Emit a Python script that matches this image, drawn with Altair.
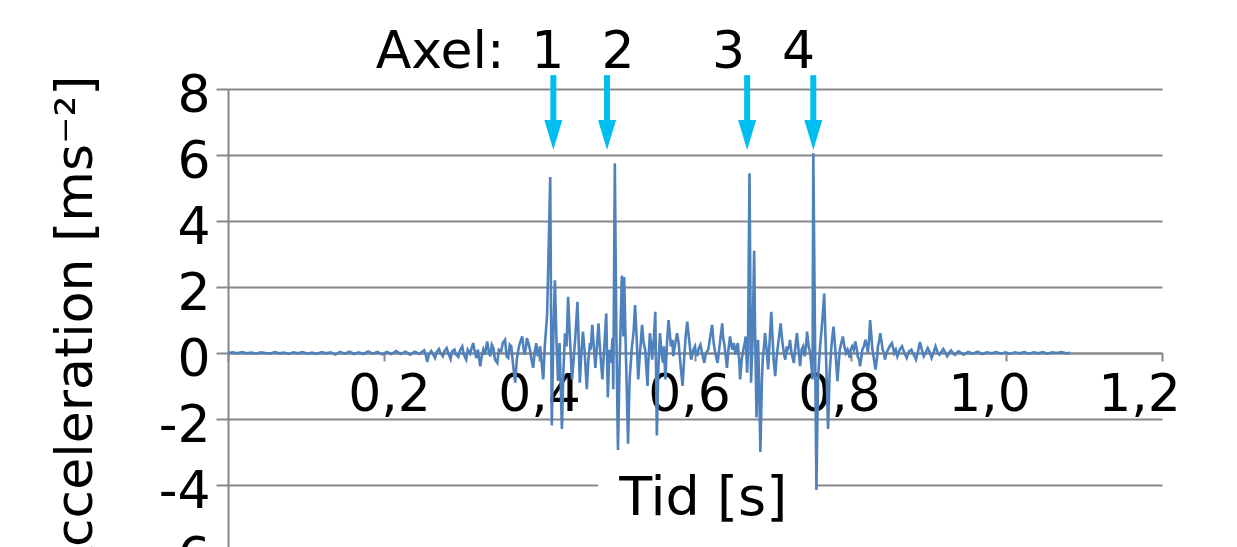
import altair as alt
import pandas as pd

# ---- data: (time [s], acceleration [m/s^2]) ----
seg_quiet_start = [
    (0.000, 0.00), (0.006, 0.02), (0.012, -0.01), (0.018, 0.03), (0.024, -0.01),
    (0.030, 0.01), (0.036, -0.02), (0.042, 0.02), (0.048, 0.00), (0.054, -0.02),
    (0.060, 0.03), (0.066, -0.01), (0.072, 0.01), (0.078, -0.03), (0.084, 0.02),
    (0.090, -0.01), (0.096, 0.03), (0.102, -0.02), (0.108, 0.01), (0.114, -0.03),
    (0.120, 0.03), (0.126, -0.01), (0.132, 0.02), (0.138, -0.05), (0.144, 0.03),
    (0.150, -0.02), (0.156, 0.04), (0.162, -0.03), (0.168, 0.02), (0.174, -0.03),
    (0.180, 0.05), (0.186, -0.02), (0.192, 0.03), (0.198, -0.04), (0.204, 0.03),
    (0.210, -0.03), (0.216, 0.06), (0.222, -0.03), (0.228, 0.04), (0.234, -0.05),
    (0.240, 0.04), (0.246, -0.03),
]
seg_build_up = [
    (0.249, 0.03), (0.252, 0.08), (0.254, -0.05), (0.256, -0.27), (0.258, -0.05),
    (0.261, 0.06), (0.263, -0.02), (0.266, -0.15), (0.268, 0.02), (0.271, 0.12),
    (0.273, 0.00), (0.276, -0.10), (0.278, 0.05), (0.281, 0.15), (0.283, 0.00),
    (0.286, -0.18), (0.288, 0.05), (0.291, 0.10), (0.293, -0.05), (0.296, -0.12),
    (0.298, 0.08), (0.301, 0.20), (0.303, -0.05), (0.306, -0.20), (0.308, 0.10),
    (0.311, -0.02), (0.313, 0.15), (0.315, 0.30), (0.317, 0.05), (0.319, -0.15),
    (0.321, 0.10), (0.324, -0.40), (0.326, -0.10), (0.328, 0.10), (0.330, -0.05),
    (0.333, 0.35), (0.335, 0.05), (0.337, -0.10), (0.339, 0.25), (0.341, 0.15),
    (0.343, -0.20), (0.346, -0.30), (0.348, 0.10), (0.351, 0.05), (0.353, 0.30),
    (0.356, 0.40), (0.358, -0.10), (0.360, -0.15), (0.362, 0.25), (0.364, 0.20),
    (0.366, -0.30), (0.369, -0.90), (0.371, -0.20), (0.373, 0.10), (0.375, 0.30),
    (0.378, 0.50), (0.380, 0.10), (0.381, -0.05), (0.383, 0.20), (0.384, 0.45),
    (0.386, 0.30), (0.388, 0.10), (0.390, -0.20), (0.392, -0.45), (0.394, 0.00),
    (0.396, 0.30), (0.398, -0.10), (0.401, 0.20), (0.403, -0.30), (0.405, -0.80),
    (0.407, 0.20), (0.410, 1.15),
]
seg_axles_1_2 = [
    (0.414, 5.33), (0.416, -2.20), (0.418, 0.50), (0.420, 2.20), (0.422, 0.40),
    (0.424, -0.85), (0.426, 0.30), (0.429, -2.30), (0.431, -0.50), (0.433, 0.60),
    (0.435, 0.20), (0.437, 1.70), (0.439, 0.60), (0.442, -0.80), (0.444, -0.20),
    (0.446, 0.40), (0.449, 1.55), (0.450, 0.80), (0.452, -0.90), (0.454, 0.00),
    (0.456, 0.65), (0.458, 0.10), (0.461, -1.10), (0.463, -0.20), (0.465, 0.30),
    (0.466, 0.10), (0.468, 0.85), (0.470, 0.20), (0.472, -0.45), (0.474, 0.20),
    (0.476, 0.90), (0.478, 0.10), (0.481, -0.80), (0.483, 0.00), (0.486, 1.20),
    (0.488, -1.35), (0.490, 0.10), (0.492, -0.30), (0.494, 0.45), (0.495, -1.10),
    (0.497, 5.75), (0.499, 0.50), (0.501, -2.94), (0.503, -0.50), (0.506, 2.35),
    (0.508, 0.50), (0.509, 2.30), (0.511, 0.20), (0.514, -2.75), (0.516, -0.80),
    (0.519, 0.20), (0.521, 0.60), (0.523, 1.45), (0.525, 0.50), (0.527, -0.80),
    (0.529, -0.10), (0.532, 0.85), (0.534, 0.30), (0.536, 0.10), (0.539, -1.00),
    (0.540, -0.30), (0.542, 0.60), (0.544, 0.20), (0.545, -0.20), (0.547, 0.40),
    (0.549, 1.25), (0.551, -2.50), (0.553, -0.40), (0.555, 0.60), (0.557, 0.00),
    (0.559, -0.30), (0.560, 0.20), (0.562, -0.80), (0.564, 0.30), (0.566, 1.00),
    (0.568, 0.50), (0.569, 0.20), (0.571, 0.40), (0.572, -0.10), (0.574, 0.20),
    (0.577, 0.60), (0.579, 0.30), (0.580, 0.00), (0.582, -0.50), (0.584, -1.00),
    (0.586, -0.20), (0.588, 0.50), (0.590, 0.95), (0.592, 0.50), (0.593, 0.30),
    (0.595, -0.20), (0.596, -0.10), (0.598, 0.10), (0.600, 0.20), (0.601, 0.00),
    (0.603, -0.05), (0.605, 0.15), (0.607, 0.25), (0.610, -0.10), (0.612, -0.30),
    (0.614, 0.00), (0.617, 0.10), (0.619, 0.40), (0.622, 0.85), (0.624, 0.30),
    (0.626, 0.00), (0.628, -0.20), (0.629, -0.30), (0.632, 0.30), (0.635, 0.90),
    (0.636, 0.50), (0.638, 0.20), (0.640, -0.20), (0.641, -0.45), (0.643, 0.10),
    (0.645, 0.50), (0.647, 0.20), (0.648, 0.10), (0.650, 0.30), (0.652, -0.05),
    (0.653, 0.10), (0.655, 0.30), (0.657, -0.30), (0.658, -0.80), (0.660, -0.20),
    (0.662, 0.10), (0.664, 0.30), (0.665, 0.50), (0.667, -0.60), (0.668, 0.00),
]
seg_axles_3_4 = [
    (0.670, 5.45), (0.672, -0.90), (0.674, 0.40), (0.676, 3.10), (0.677, 1.00),
    (0.679, -1.95), (0.681, 0.40), (0.682, -0.50), (0.684, -3.00), (0.686, -0.80),
    (0.687, -0.20), (0.689, 0.30), (0.690, 0.60), (0.692, 0.10), (0.694, -0.50),
    (0.696, 0.40), (0.698, 1.25), (0.700, 0.30), (0.701, -0.20), (0.703, -0.70),
    (0.705, -0.10), (0.706, 0.10), (0.708, 0.50), (0.710, 0.90), (0.712, 0.40),
    (0.713, 0.20), (0.715, -0.10), (0.716, -0.20), (0.718, 0.20), (0.719, 0.10),
    (0.721, 0.20), (0.722, 0.40), (0.724, 0.00), (0.727, -0.30), (0.729, 0.20),
    (0.731, 0.60), (0.733, 0.10), (0.735, -0.40), (0.737, 0.10), (0.739, 0.20),
    (0.741, -0.10), (0.743, 0.30), (0.744, 0.65), (0.746, 0.20), (0.748, 0.00),
    (0.751, -0.80), (0.752, 6.05), (0.756, -4.15), (0.758, -0.80), (0.761, 0.30),
    (0.763, 0.80), (0.766, 1.80), (0.768, 0.20), (0.771, -2.30), (0.773, -0.60),
    (0.775, 0.10), (0.776, 0.40), (0.778, 0.80), (0.780, 0.20), (0.783, -0.85),
    (0.785, -0.20), (0.786, 0.10), (0.788, 0.30), (0.790, 0.50), (0.792, 0.20),
    (0.794, 0.00), (0.796, 0.10), (0.799, -0.15), (0.800, 0.10), (0.802, 0.20),
    (0.804, 0.10), (0.806, 0.35), (0.808, 0.10), (0.809, -0.10), (0.811, -0.20),
    (0.812, -0.40), (0.814, -0.10), (0.815, 0.10), (0.817, 0.20), (0.819, 0.40),
    (0.821, 0.20), (0.822, 0.00), (0.824, 0.50), (0.825, 1.00), (0.827, 0.40),
    (0.828, 0.10), (0.830, -0.20), (0.832, -0.50), (0.834, -0.10), (0.835, 0.20),
    (0.837, 0.40), (0.838, 0.60), (0.840, 0.30), (0.841, 0.10), (0.843, 0.00),
    (0.844, -0.20), (0.846, 0.00), (0.848, 0.10), (0.850, 0.20), (0.853, 0.30),
    (0.855, 0.10), (0.856, 0.00), (0.858, 0.10), (0.860, -0.10),
]
seg_decay = [
    (0.863, 0.10), (0.866, 0.20), (0.869, 0.00), (0.872, -0.15), (0.875, 0.05),
    (0.878, 0.10), (0.881, -0.05), (0.884, -0.20), (0.887, 0.10), (0.889, 0.33),
    (0.892, 0.05), (0.894, -0.10), (0.897, 0.05), (0.899, 0.15), (0.902, 0.00),
    (0.904, -0.15), (0.907, 0.05), (0.909, 0.20), (0.912, 0.00), (0.914, -0.05),
    (0.917, 0.05), (0.919, 0.12), (0.922, 0.00), (0.924, -0.10), (0.927, 0.02),
    (0.929, 0.08), (0.932, -0.02), (0.934, -0.06), (0.937, 0.02), (0.939, 0.05),
    (0.942, 0.00), (0.945, -0.05), (0.951, 0.03), (0.957, -0.02), (0.963, 0.04),
    (0.969, -0.03), (0.975, 0.02), (0.981, -0.01), (0.987, 0.03), (0.993, -0.02),
    (0.999, 0.02), (1.005, -0.03), (1.011, 0.02), (1.017, -0.01), (1.023, 0.03),
    (1.029, -0.02), (1.035, 0.02), (1.041, -0.01), (1.047, 0.03), (1.053, -0.02),
    (1.059, 0.02), (1.065, 0.00), (1.071, 0.03), (1.077, -0.01), (1.082, 0.01),
]

axle_times = [0.418, 0.487, 0.667, 0.752]          # arrow positions (s)
axle_labels = ["Axel:", "1", "2", "3", "4"]
axle_label_times = [0.2725, 0.411, 0.501, 0.643, 0.733]
x_ticks = [0.0, 0.2, 0.4, 0.6, 0.8, 1.0, 1.2]
x_label_values = [0.2, 0.4, 0.6, 0.8, 1.0, 1.2]
y_ticks = [-6, -4, -2, 0, 2, 4, 6, 8]
x_title = "Tid [s]"
y_title = "Acceleration [ms⁻²]"

# ---- styling ----
FONT = "DejaVu Sans"
GRID = "#878787"
LINE = "#4F81BD"
CYAN = "#00BFF0"
FS = 52

samples = seg_quiet_start + seg_build_up + seg_axles_1_2 + seg_axles_3_4 + seg_decay
df = pd.DataFrame(samples, columns=["t", "a"])
arrows = pd.DataFrame({"t": axle_times})
lbls = pd.DataFrame({"t": axle_label_times, "label": axle_labels})
xtitle_df = pd.DataFrame({"t": [0.6105], "label": [x_title]})
xl_df = pd.DataFrame({"tick": x_label_values})

x_scale = alt.Scale(domain=[0, 1.2], nice=False, zero=False)
y_scale = alt.Scale(domain=[-6, 8], nice=False, zero=False)

x_axis = alt.Axis(
    values=x_ticks, labels=False, grid=False, orient="bottom", offset=-198,
    domainColor=GRID, domainWidth=2, tickColor=GRID, tickWidth=2, tickSize=8,
    title=None,
)
y_axis = alt.Axis(
    values=y_ticks, grid=True, gridColor=GRID, gridWidth=2,
    domainColor=GRID, domainWidth=2, tickColor=GRID, tickWidth=2, tickSize=12,
    labelPadding=6, labelFont=FONT, labelFontSize=FS, labelColor="black",
    labelOffset=6, labelFlush=False, labelExpr="'' + datum.value",
    title=y_title, titleFont=FONT, titleFontSize=FS, titleFontWeight="normal",
    titleColor="black", titleAngle=270, titleX=-137, titleY=239,
    titleAlign="center", titleBaseline="alphabetic",
)

# white box behind the x-axis title (knocks out the gridline)
box = alt.Chart(xtitle_df).mark_rect(color="white").encode(
    x=alt.X("x0:Q", scale=x_scale, axis=x_axis),
    x2=alt.X2("x1:Q"),
    y=alt.Y("y0:Q", scale=y_scale, axis=y_axis),
    y2=alt.Y2("y1:Q"),
).transform_calculate(x0="0.4756", x1="0.7545", y0="-3.55", y1="-5.4")

line = alt.Chart(df).mark_line(color=LINE, strokeWidth=2.6).encode(
    x=alt.X("t:Q", scale=x_scale, axis=x_axis),
    y=alt.Y("a:Q", scale=y_scale, axis=y_axis),
)

shaft = alt.Chart(arrows).mark_rule(color=CYAN, strokeWidth=6).encode(
    x=alt.X("t:Q", scale=x_scale),
    y=alt.datum(8.42),
    y2=alt.datum(7.0),
)

head = alt.Chart(arrows).mark_point(
    shape="M -1 0 L 1 0 L 0 3.33 Z", size=324, filled=True,
    color=CYAN, opacity=1, strokeWidth=0,
).encode(
    x=alt.X("t:Q", scale=x_scale),
    y=alt.datum(7.06),
)

axle_text = alt.Chart(lbls).mark_text(
    font=FONT, fontSize=FS, color="black", align="center", baseline="alphabetic"
).encode(
    x=alt.X("t:Q", scale=x_scale),
    y=alt.datum(8.636),
    text="label:N",
)

xtitle = alt.Chart(xtitle_df).mark_text(
    font=FONT, fontSize=54, color="black", align="center", baseline="alphabetic"
).encode(
    x=alt.X("t:Q", scale=x_scale),
    y=alt.datum(-4.91),
    text="label:N",
)

main = alt.layer(box, line, shaft, head, axle_text, xtitle)

# x tick labels (as placed in the reference: evenly spaced, slightly off the ticks)
xlabels = alt.Chart(xl_df).mark_point(opacity=0).encode(
    x=alt.X(
        "tick:Q",
        scale=alt.Scale(domain=[0, 1.2], range=[11, 911], nice=False, zero=False),
        axis=alt.Axis(
            orient="bottom", offset=-198, values=x_label_values,
            domain=False, ticks=False, tickSize=0, grid=False,
            labelExpr="replace(format(datum.value, '.1f'), '.', ',')",
            labelFont=FONT, labelFontSize=FS, labelColor="black",
            labelPadding=16, labelFlush=False, labelOverlap=False, title=None,
        ),
    ),
    y=alt.value(0),
)

chart = alt.layer(main, xlabels).resolve_scale(x="independent").properties(
    width=934, height=462,
    padding={"left": 220, "top": 81, "right": 60, "bottom": 10},
    autosize=alt.AutoSizeParams(type="none"),
).configure_view(strokeOpacity=0)

chart.save("out.html", embed_options={"renderer": "svg", "actions": False})
